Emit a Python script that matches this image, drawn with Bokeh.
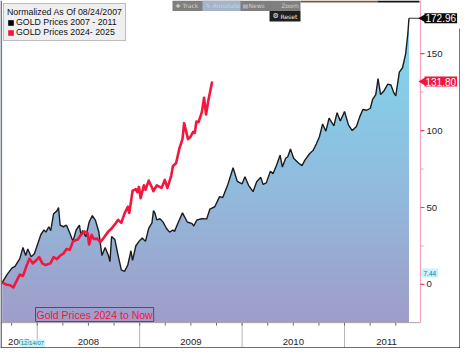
import numpy as np
from bokeh.plotting import figure
from bokeh.models import Range1d, Label, BoxAnnotation
from bokeh.core.properties import value
from bokeh.embed import file_html
from bokeh.resources import INLINE

# ---------------- data ----------------
legend_title = "Normalized As Of 08/24/2007"
series_names = ["GOLD Prices 2007 - 2011", "GOLD Prices 2024- 2025"]

# Gold 2007-2011, % change vs 08/24/2007 (x = decimal year)
gold_0711_t = [2007.658, 2007.705, 2007.752, 2007.783, 2007.830, 2007.861, 2007.887, 2007.908,
               2007.941, 2007.972, 2008.003, 2008.035, 2008.066, 2008.085, 2008.113, 2008.132,
               2008.160, 2008.192, 2008.208, 2008.224, 2008.255, 2008.286, 2008.318, 2008.349,
               2008.380, 2008.412, 2008.427, 2008.443, 2008.475, 2008.507, 2008.538, 2008.569,
               2008.601, 2008.632, 2008.663, 2008.695, 2008.710, 2008.726, 2008.758, 2008.790,
               2008.821, 2008.852, 2008.884, 2008.915, 2008.931, 2008.962, 2008.993, 2009.025,
               2009.057, 2009.088, 2009.120, 2009.135, 2009.151, 2009.167, 2009.198, 2009.229,
               2009.261, 2009.292, 2009.324, 2009.340, 2009.371, 2009.418, 2009.465, 2009.512,
               2009.528, 2009.559, 2009.607, 2009.654, 2009.686, 2009.733, 2009.780, 2009.811,
               2009.858, 2009.912, 2009.953, 2010.000, 2010.028, 2010.063, 2010.107, 2010.142,
               2010.182, 2010.205, 2010.236, 2010.276, 2010.302, 2010.335, 2010.371, 2010.393,
               2010.425, 2010.446, 2010.472, 2010.503, 2010.550, 2010.585, 2010.613, 2010.660,
               2010.692, 2010.724, 2010.755, 2010.786, 2010.818, 2010.849, 2010.896, 2010.927,
               2010.959, 2011.000, 2011.038, 2011.075, 2011.116, 2011.148, 2011.179, 2011.217,
               2011.252, 2011.274, 2011.305, 2011.327, 2011.352, 2011.382, 2011.422, 2011.453,
               2011.478, 2011.500, 2011.535, 2011.566, 2011.597, 2011.618, 2011.629]
gold_0711_v = [1.2, 6.4, 10.6, 11.8, 16.8, 24.0, 18.8, 23.0,
               18.0, 19.9, 26.0, 32.3, 35.4, 34.0, 37.5, 35.0,
               46.0, 47.8, 49.9, 38.5, 37.5, 38.5, 33.5, 28.0,
               35.4, 38.5, 32.0, 35.0, 31.0, 40.6, 44.7, 41.6,
               34.3, 18.8, 24.0, 18.8, 14.8, 31.2, 29.2, 18.8,
               9.5, 8.5, 12.6, 21.9, 15.7, 25.0, 28.0, 30.2,
               28.0, 36.5, 40.0, 48.0, 46.0, 42.0, 42.7, 40.5,
               36.5, 34.0, 35.4, 34.5, 39.5, 46.5, 40.6, 39.5,
               38.0, 42.0, 42.7, 42.6, 49.0, 50.5, 57.1, 56.5,
               64.4, 75.8, 67.0, 65.4, 70.0, 64.4, 60.3, 66.7,
               69.6, 65.0, 66.0, 73.5, 72.0, 77.3, 84.0, 76.3,
               82.0, 83.0, 88.0, 82.0, 78.9, 77.2, 80.8, 85.1,
               87.0, 91.3, 96.0, 104.3, 99.6, 108.0, 103.1, 111.6,
               106.2, 112.4, 103.7, 100.0, 102.7, 108.9, 113.7, 113.2,
               114.5, 120.3, 123.4, 133.7, 123.4, 125.5, 130.2, 129.6,
               125.0, 122.6, 138.0, 140.8, 150.0, 163.0, 172.96]

# Gold 2024-2025, % change, shifted onto the same time axis
gold_2425_t = [2007.658, 2007.705, 2007.736, 2007.767, 2007.799, 2007.830, 2007.861, 2007.893,
               2007.925, 2007.956, 2007.988, 2008.019, 2008.050, 2008.082, 2008.129, 2008.160,
               2008.192, 2008.224, 2008.255, 2008.286, 2008.318, 2008.349, 2008.396, 2008.427,
               2008.459, 2008.491, 2008.507, 2008.531, 2008.554, 2008.585, 2008.616, 2008.648,
               2008.695, 2008.726, 2008.758, 2008.790, 2008.821, 2008.852, 2008.884, 2008.899,
               2008.931, 2008.962, 2008.978, 2008.993, 2009.009, 2009.041, 2009.057, 2009.088,
               2009.120, 2009.135, 2009.167, 2009.214, 2009.245, 2009.271, 2009.308, 2009.324,
               2009.356, 2009.387, 2009.418, 2009.434, 2009.472, 2009.497, 2009.522, 2009.538,
               2009.554, 2009.575, 2009.607, 2009.629, 2009.648, 2009.670, 2009.708]
gold_2425_v = [1.2, -0.2, -0.5, -1.9, 2.3, 6.4, 5.5, 11.6,
               16.8, 13.7, 15.5, 17.8, 13.7, 12.6, 13.7, 17.8,
               16.5, 18.8, 20.0, 23.0, 22.5, 28.0, 29.2, 32.3,
               34.4, 33.5, 26.0, 32.3, 29.5, 29.8, 27.5, 30.2,
               34.5, 36.4, 39.0, 42.0, 40.0, 46.0, 50.5, 46.5,
               61.0, 62.0, 60.0, 63.4, 56.1, 64.4, 61.5, 67.5,
               63.0, 60.6, 64.4, 62.7, 67.9, 62.7, 70.6, 76.8,
               78.9, 88.2, 94.4, 104.8, 94.4, 96.0, 99.2, 98.5,
               105.8, 105.5, 112.0, 121.3, 110.4, 119.3, 131.8]

year_labels = ["2007", "2008", "2009", "2010", "2011"]
year_label_pos = [2007.82, 2008.5, 2009.5, 2010.5, 2011.41]
year_bounds = [2008, 2009, 2010, 2011]
quarter_ticks = [2007.75, 2008.0, 2008.25, 2008.5, 2008.75, 2009.0, 2009.25, 2009.5, 2009.75,
                 2010.0, 2010.25, 2010.5, 2010.75, 2011.0, 2011.25, 2011.5]
y_ticks = [0, 50, 100, 150]
y_tick_labels = ["0", "50", "100", "150"]
y_minor_ticks = [25, 75, 125]
cursor_date_text = "12/14/07"
cursor_date_pos = 2007.953
cursor_value = 7.44
note_text = "Gold Prices 2024 to Now"

# ---------------- layout constants ----------------
FONT = "Liberation Sans"
W, H = 460, 348
FRAME_W = 420                      # width of the price area, right strip holds the value scale
X0, AX = 2007.6415, 2011.7415      # left edge and position of the value scale
PX = (AX - X0) / FRAME_W           # one pixel in x data units
X1 = AX + (W - FRAME_W) * PX
Y0, Y1 = -41.6, 184.5
FLOOR = -24.8
PY = (Y1 - Y0) / H
BLACK_TAG = "#0a0a0a"
RED = "#f3173f"

p = figure(width=W, height=H, x_range=Range1d(X0, X1), y_range=Range1d(Y0, Y1),
           x_axis_location=None, y_axis_location=None,
           output_backend="svg", toolbar_location=None,
           min_border_left=0, min_border_right=0, min_border_top=0, min_border_bottom=0)
p.outline_line_color = None
p.xgrid.visible = False
p.ygrid.visible = False
p.background_fill_color = "white"
p.border_fill_color = "white"

# gradient area under the 2007-2011 line: gradient image masked above the line
t = np.array(gold_0711_t)
v = np.array(gold_0711_v)
top_v = v.max()
N = 240
stops_v = [FLOOR, 60.0, top_v]
stops_c = [(160, 156, 201), (145, 186, 220), (126, 217, 240)]
img = np.empty((N, 1), dtype=np.uint32)
view = img.view(dtype=np.uint8).reshape((N, 1, 4))
for i in range(N):
    yy = FLOOR + (i + 0.5) / N * (top_v - FLOOR)
    for c in range(3):
        view[i, 0, c] = int(round(np.interp(yy, stops_v, [s[c] for s in stops_c])))
    view[i, 0, 3] = 255
p.image_rgba(image=[img], x=t[0], y=FLOOR, dw=t[-1] - t[0], dh=top_v - FLOOR)
p.varea(x=t, y1=v, y2=np.full_like(v, Y1), fill_color="white", fill_alpha=1)

# bottom time scale
p.segment(x0=[X0], x1=[AX], y0=[FLOOR], y1=[FLOOR], line_color="#a6a6a6", line_width=1)
p.segment(x0=year_bounds, x1=year_bounds, y0=[Y0] * len(year_bounds), y1=[FLOOR] * len(year_bounds),
          line_color="#b5b5b5", line_width=1)
p.segment(x0=quarter_ticks, x1=quarter_ticks, y0=[FLOOR] * len(quarter_ticks),
          y1=[FLOOR - 3 * PY] * len(quarter_ticks), line_color="#707070", line_width=1)
p.text(x=year_label_pos, y=[-37.3] * len(year_labels), text=year_labels,
       text_font=value(FONT), text_font_size="9.6px", text_color="#1e1e1e",
       text_align="center", text_baseline="middle")

# right value scale
p.segment(x0=[AX], x1=[AX], y0=[FLOOR], y1=[Y1], line_color="#f3a6bc", line_width=1.2)
p.segment(x0=[AX] * len(y_ticks), x1=[AX + 4 * PX] * len(y_ticks), y0=y_ticks, y1=y_ticks,
          line_color="#e0405c", line_width=1.2)
p.segment(x0=[AX] * len(y_minor_ticks), x1=[AX + 3 * PX] * len(y_minor_ticks),
          y0=y_minor_ticks, y1=y_minor_ticks, line_color="#ee9ab0", line_width=1)
p.text(x=[AX] * len(y_ticks), y=y_ticks, text=y_tick_labels, x_offset=6,
       text_font=value(FONT), text_font_size="9.6px", text_color="#1e1e1e",
       text_align="left", text_baseline="middle")

# last value connector
p.segment(x0=[t[-1]], x1=[AX], y0=[v[-1]], y1=[v[-1]], line_color="#333333", line_width=1)

# lines
p.line(t, v, line_color="#1c1c1c", line_width=1.4)
p.line(gold_2425_t, gold_2425_v, line_color=RED, line_width=2.6, line_join="round")

# legend swatches (hidden renderers anchored on each series' last point)
q1 = p.quad(left=[t[-1]], right=[t[-1]], top=[v[-1]], bottom=[v[-1]], fill_color="#000000",
            line_color=None, legend_label=series_names[0], visible=False)
q2 = p.quad(left=[gold_2425_t[-1]], right=[gold_2425_t[-1]], top=[gold_2425_v[-1]],
            bottom=[gold_2425_v[-1]], fill_color=RED, line_color=None,
            legend_label=series_names[1], visible=False)
lg = p.legend[0]
lg.title = legend_title
lg.location = "top_left"
lg.margin = 3
lg.padding = 3
lg.spacing = 0
lg.label_height = 8
lg.glyph_height = 7
lg.glyph_width = 7
lg.label_standoff = 2
lg.title_standoff = 0
lg.label_text_font = FONT
lg.title_text_font = FONT
lg.label_text_font_size = "8.8px"
lg.title_text_font_size = "8.8px"
lg.title_text_font_style = "normal"
lg.label_text_color = "#111111"
lg.title_text_color = "#111111"
lg.background_fill_color = "#efefef"
lg.background_fill_alpha = 1
lg.border_line_color = "#8a8a8a"
lg.border_line_width = 1
lg.inactive_fill_alpha = 0
lg.click_policy = "none"

# value tags on right scale (pointer + box)
p.scatter(x=[AX + 3 * PX, AX + 3 * PX], y=[gold_0711_v[-1], gold_2425_v[-1]], marker="triangle",
          angle=np.pi / 2, size=9, fill_color=[BLACK_TAG, "#f01640"], line_color=None)
p.add_layout(Label(x=AX, y=gold_0711_v[-1], x_offset=4, text=f"{gold_0711_v[-1]:.2f}",
                   text_font=FONT, text_font_size="10px", text_color="white",
                   text_baseline="middle", background_fill_color=BLACK_TAG, padding=1))
p.add_layout(Label(x=AX, y=gold_2425_v[-1], x_offset=4, text=f"{gold_2425_v[-1]:.2f}",
                   text_font=FONT, text_font_size="10px", text_color="white",
                   text_baseline="middle", background_fill_color="#f01640", padding=1))
p.add_layout(Label(x=AX, y=cursor_value, x_offset=1, text=f"{cursor_value:.2f}",
                   text_font=FONT, text_font_size="6.5px", text_color="#17808f",
                   text_baseline="middle", background_fill_color="#c8f3f8", padding=2))
p.add_layout(Label(x=cursor_date_pos, y=-38.3, text=cursor_date_text, text_font=FONT,
                   text_font_size="6px", text_color="#17808f", text_align="center",
                   text_baseline="middle", background_fill_color="#c8f3f8", padding=1))

# note box
p.add_layout(Label(x=35, y=27, x_units="screen", y_units="screen", text=note_text,
                   text_font=FONT, text_font_size="10.5px", text_color="#f0163e",
                   text_baseline="bottom", border_line_color="#4c4d76", border_line_width=1,
                   padding=1))

# terminal toolbar overlay and screenshot frame
def sbox(l, r, b, tp, color):
    p.add_layout(BoxAnnotation(left=l, right=r, bottom=b, top=tp, left_units="screen",
                               right_units="screen", bottom_units="screen", top_units="screen",
                               fill_color=color, fill_alpha=1, line_color=None))

sbox(172, 300, 337.5, 348, "#7f7f7f")
sbox(202, 240, 337.5, 348, "#a2b5cb")
sbox(269, 300, 327, 337.5, "#1e1e1e")
sbox(300, 377, 346, 348, "#7a5a3c")
sbox(377, 419, 346, 348, "#151515")
sbox(0, 1.2, 0, 348, "#3c3c3c")
sbox(0, 460, 0, 1.2, "#3c3c3c")
sbox(458.8, 460, 0, 320, "#3c3c3c")

def slabel(x, y, txt, color, size="6px"):
    p.add_layout(Label(x=x, y=y, x_units="screen", y_units="screen", text=txt,
                       text_font="DejaVu Sans", text_font_size=size, text_color=color,
                       text_baseline="middle"))

for x, txt in [(175, "✚"), (182, "Track"), (205, "✎"), (212, "Annotate"),
               (242, "▤"), (248, "News"), (281, "Zoom")]:
    slabel(x, 342.7, txt, "#d0d0d0")
slabel(272, 332.2, "⚙", "#eeeeee", "7px")
slabel(280, 332.2, "Reset", "#eeeeee")

open("out.html", "w").write(file_html(p, INLINE))
